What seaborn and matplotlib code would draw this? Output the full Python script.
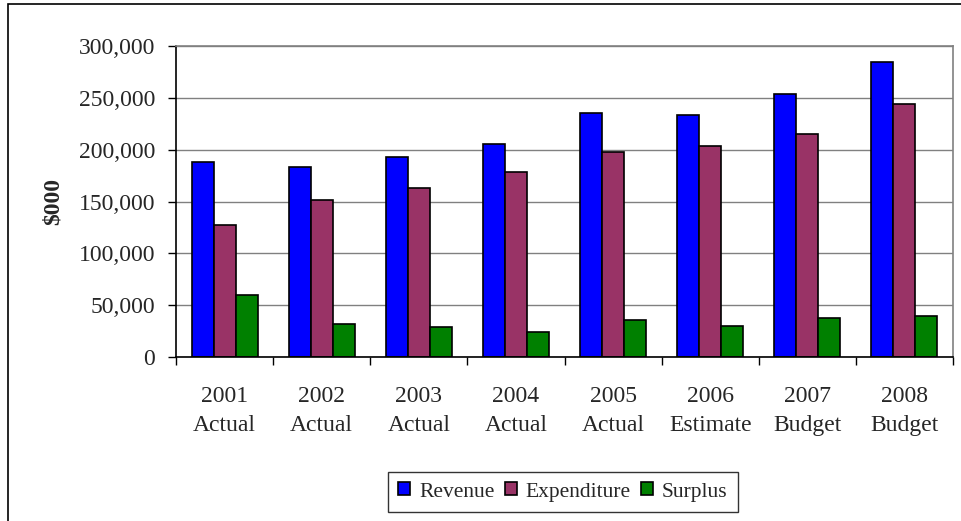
import numpy as np
import pandas as pd
import seaborn as sns
import matplotlib.pyplot as plt
from matplotlib.ticker import FuncFormatter, FixedLocator
from matplotlib.patches import Rectangle

# data ($000)
years = ['2001\nActual', '2002\nActual', '2003\nActual', '2004\nActual',
         '2005\nActual', '2006\nEstimate', '2007\nBudget', '2008\nBudget']
revenue = [188000, 183000, 192500, 205500, 235000, 233000, 254000, 285000]
expenditure = [127000, 151500, 163500, 178500, 198000, 203500, 215500, 244500]
surplus = [59500, 32000, 28500, 24500, 36000, 30000, 38000, 40000]
series = ['Revenue', 'Expenditure', 'Surplus']
colors = ['#0000FF', '#993366', '#008000']

df = pd.DataFrame({
    'year': years * 3,
    'series': np.repeat(series, len(years)),
    'value': revenue + expenditure + surplus,
})

sns.set_theme(style='white')
plt.rcParams['font.family'] = ['Liberation Serif', 'DejaVu Serif']

fig = plt.figure(figsize=(9.61, 5.21), dpi=100)
ax = fig.add_axes([176 / 961, 1 - 357 / 521, 777 / 961, 311 / 521])

sns.barplot(data=df, x='year', y='value', hue='series', palette=colors,
            width=0.68, gap=0, edgecolor='black', linewidth=1.2,
            saturation=1, ax=ax, legend=True)

ax.set_ylim(0, 300000)
ax.set_xlim(-0.5, len(years) - 0.5)
ax.yaxis.set_major_locator(FixedLocator(np.arange(0, 300001, 50000)))
ax.yaxis.set_major_formatter(FuncFormatter(lambda v, p: f'{int(v):,}'))
ax.grid(axis='y', color='#808080', linewidth=1)
ax.set_axisbelow(True)

# spines: left/bottom black, top/right grey
for side in ['left', 'bottom']:
    ax.spines[side].set_color('black')
    ax.spines[side].set_linewidth(1.2)
for side in ['top', 'right']:
    ax.spines[side].set_color('#808080')
    ax.spines[side].set_linewidth(1.2)
    ax.spines[side].set_visible(True)

ax.tick_params(axis='y', which='major', direction='out', length=6, width=1,
               color='black', pad=9, labelsize=17, left=True)
ax.set_xticks(np.arange(-0.5, len(years)), minor=True)
ax.tick_params(axis='x', which='minor', direction='out', length=6, width=1,
               color='black', bottom=True)
ax.tick_params(axis='x', which='major', length=0, pad=21, labelsize=17)
for lbl in ax.get_xticklabels():
    lbl.set_linespacing(1.5)

ax.set_xlabel('')
ax.set_ylabel('$000', fontsize=17, fontweight='bold')
ax.yaxis.set_label_coords(-0.145, 0.5)

handles, labels = ax.get_legend_handles_labels()
ax.legend_.remove()
leg = fig.legend(handles, labels, loc='center', ncol=3,
                 bbox_to_anchor=(563 / 961, 1 - 492 / 521),
                 fontsize=15.5, frameon=True, fancybox=False,
                 handlelength=0.55, handleheight=0.55, handletextpad=0.4,
                 columnspacing=0.5, borderpad=0.5)
leg.get_frame().set_edgecolor('black')
leg.get_frame().set_linewidth(1)

# outer chart border (cut off on the right and bottom)
fig.patches.append(Rectangle((8 / 961, -0.05), 1.0, 1 - 4 / 521 + 0.05,
                             transform=fig.transFigure, fill=False,
                             edgecolor='black', linewidth=1.2))

fig.savefig('out.png', dpi=100)
